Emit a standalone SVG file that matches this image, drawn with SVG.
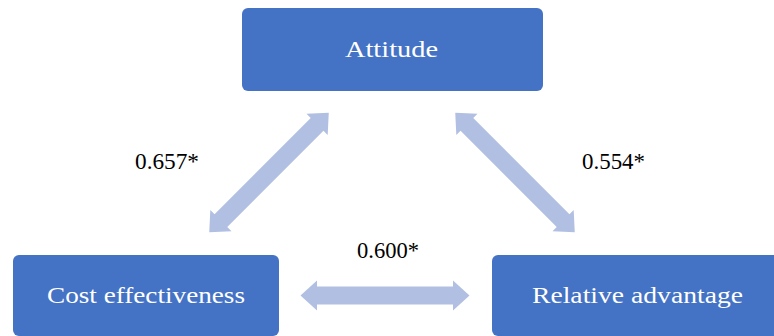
<svg xmlns="http://www.w3.org/2000/svg" width="774" height="336" viewBox="0 0 774 336">
<style>
.box{fill:#4472c4;}
.bt{font-family:"Liberation Serif","DejaVu Serif",serif;font-size:23px;fill:#ffffff;}
.lbl{font-family:"Liberation Serif","DejaVu Serif",serif;font-size:23px;fill:#000000;}
.arr{fill:#b0bfe2;}
</style>
<defs>
<polygon id="dbl" points="-84.5,0 -68,-15 -68,-9 68,-9 68,-15 84.5,0 68,15 68,9 -68,9 -68,15"/>
</defs>
<rect width="774" height="336" fill="#ffffff"/>
<g id="connectors">
<use href="#dbl" class="arr" transform="translate(269,172.5) rotate(-45)"/>
<use href="#dbl" class="arr" transform="translate(515,172.5) rotate(45)"/>
<use href="#dbl" class="arr" transform="translate(385,295.5)"/>
</g>
<g id="attitude">
<rect class="box" x="242" y="8" width="301" height="83" rx="6"/>
<text class="bt" x="345" y="57" textLength="93" lengthAdjust="spacingAndGlyphs">Attitude</text>
</g>
<g id="cost">
<rect class="box" x="13" y="255" width="266" height="81" rx="6"/>
<text class="bt" x="47" y="303" textLength="198" lengthAdjust="spacingAndGlyphs">Cost effectiveness</text>
</g>
<g id="relative">
<rect class="box" x="492" y="255" width="290" height="81" rx="6"/>
<text class="bt" x="532" y="303" textLength="211" lengthAdjust="spacingAndGlyphs">Relative advantage</text>
</g>
<g id="labels">
<text class="lbl" x="135" y="169" textLength="64" lengthAdjust="spacingAndGlyphs">0.657*</text>
<text class="lbl" x="582" y="169" textLength="63" lengthAdjust="spacingAndGlyphs">0.554*</text>
<text class="lbl" x="357" y="258" textLength="62" lengthAdjust="spacingAndGlyphs">0.600*</text>
</g>
</svg>
